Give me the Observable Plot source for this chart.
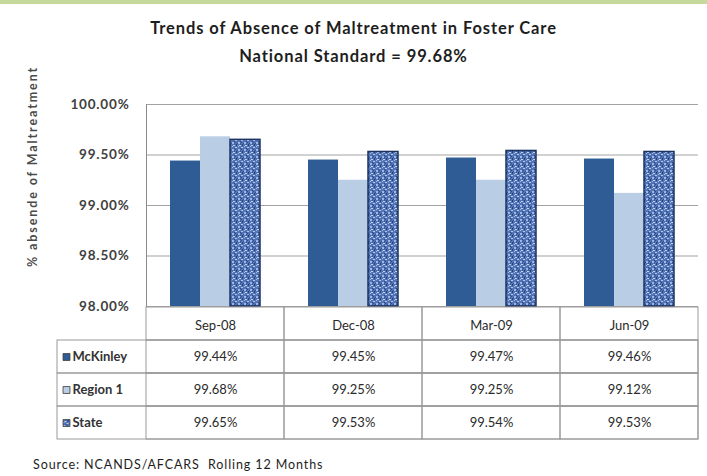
<!DOCTYPE html>
<html>
<head>
<meta charset="utf-8">
<script src="https://cdn.jsdelivr.net/npm/d3@7"></script>
<script src="https://cdn.jsdelivr.net/npm/@observablehq/plot@0.6"></script>
<style>
  html, body { margin: 0; padding: 0; background: #fff; }
  body { width: 707px; height: 476px; overflow: hidden; font-family: Lato, "Open Sans", sans-serif; position: relative; }
  #topbar { height: 4px; background: #c5d99c; }
  #title { margin-top: 10px; text-align: center; font-weight: bold; font-size: 16.5px; letter-spacing: 0.9px; line-height: 28px; color: #1e1e1e; }
  #table { margin-top: -10px; }
  #caption { margin-top: 17px; margin-left: 33px; font-size: 12.5px; line-height: 16px; color: #1e1e1e; letter-spacing: 0.9px; }
  #defs { position: absolute; width: 0; height: 0; }
  g[aria-label="y-axis tick label"] text { letter-spacing: 0.8px; }
  g[aria-label="table-values"] text { letter-spacing: 0.6px; }
  g[aria-label="table-header"] text { letter-spacing: 0.6px; }
  g[aria-label="row-labels"] text { letter-spacing: 1.1px; }
</style>
</head>
<body>
<svg id="defs" width="0" height="0">
  <defs>
    <pattern id="stateTex" width="6" height="7" patternUnits="userSpaceOnUse">
      <rect width="6" height="7" fill="#5374b4"/>
      <rect x="0" y="0" width="2" height="1" fill="#b3c7ee"/>
      <rect x="3" y="2" width="2" height="2" fill="#9db6e6"/>
      <rect x="1" y="4" width="1" height="2" fill="#233f7c"/>
      <rect x="5" y="1" width="1" height="1" fill="#2a4a8a"/>
      <rect x="4" y="5" width="2" height="1" fill="#c0d2f2"/>
      <rect x="0" y="2" width="1" height="1" fill="#2a4a8a"/>
      <rect x="2" y="3" width="1" height="1" fill="#2d4f91"/>
      <rect x="3" y="6" width="1" height="1" fill="#a8bfea"/>
      <rect x="5" y="3" width="1" height="2" fill="#3a5c9e"/>
    </pattern>
  </defs>
</svg>
<div id="topbar"></div>
<div id="title">Trends of Absence of Maltreatment in Foster Care<br>National Standard = 99.68%</div>
<div id="chart"></div>
<div id="table"></div>
<div id="caption">Source: NCANDS/AFCARS&nbsp; Rolling 12 Months</div>
<script>
const periods = ["Sep-08", "Dec-08", "Mar-09", "Jun-09"];
const seriesNames = ["McKinley", "Region 1", "State"];
const mckinley = [99.44, 99.45, 99.47, 99.46];
const region1 = [99.68, 99.25, 99.25, 99.12];
const state = [99.65, 99.53, 99.54, 99.53];
const yTicks = [98, 98.5, 99, 99.5, 100];
const yLabel = "% absende of Maltreatment";
const seriesColors = ["#2f5c94", "#b9cde5", "url(#stateTex)"];

const seriesValues = [mckinley, region1, state];
const data = periods.flatMap((p, i) =>
  seriesNames.map((s, j) => ({period: p, series: s, value: seriesValues[j][i]})));

const pct = d => d.toFixed(2) + "%";
const font = "Lato, 'Open Sans', sans-serif";

const chart = Plot.plot({
  width: 707,
  height: 246,
  marginLeft: 145,
  marginRight: 9,
  marginTop: 34,
  marginBottom: 10,
  style: {fontFamily: font, background: "white", overflow: "visible"},
  fx: {domain: periods, padding: 0, axis: null},
  x: {domain: seriesNames, paddingInner: 0, paddingOuter: 0.73, axis: null},
  y: {domain: [98, 100]},
  color: {domain: seriesNames, range: seriesColors},
  marks: [
    Plot.gridY(yTicks, {stroke: "#a3a3a3", strokeOpacity: 1}),
    Plot.frame({anchor: "left", facetAnchor: "left", stroke: "#8c8c8c"}),
    Plot.axisY(yTicks, {tickSize: 0, tickPadding: 17, tickFormat: pct, fontSize: 13.5, fill: "#404040", fontWeight: "bold", label: null}),
    Plot.text([yLabel], {fx: () => periods[0], text: d => d, frameAnchor: "left", textAnchor: "middle", rotate: -90, dx: -114, dy: -39, fontSize: 12.5, fontWeight: "bold", fill: "#4a4a4a"}),
    Plot.barY(data, {fx: "period", x: "series", y1: 98, y2: "value", fill: "series"}),
    Plot.barY(data.filter(d => d.series === "State"), {fx: "period", x: "series", y1: 98, y2: "value", fill: "none", stroke: "#1d3461", strokeWidth: 1.5})
  ]
});
d3.select(chart).selectAll("text")
  .filter(function() { return this.textContent === yLabel; })
  .attr("letter-spacing", "1.9px");
document.getElementById("chart").appendChild(chart);

const headerCells = periods.map(p => ({period: p, row: "header", text: p}));
const valueCells = data.map(d => ({period: d.period, row: d.series, text: pct(d.value)}));
const tableCells = [...headerCells, ...valueCells];

const table = Plot.plot({
  width: 707,
  height: 134,
  marginLeft: 145,
  marginRight: 9,
  marginTop: 0.5,
  marginBottom: 1.5,
  style: {fontFamily: font, background: "transparent", overflow: "visible"},
  x: {domain: periods, padding: 0, axis: null},
  y: {domain: ["header", ...seriesNames], padding: 0, axis: null},
  color: {domain: seriesNames, range: seriesColors},
  marks: [
    Plot.cell(seriesNames, {y: d => d, fill: "none", stroke: "#9a9a9a", insetLeft: -88}),
    Plot.cell(tableCells, {x: "period", y: "row", fill: "none", stroke: "#9a9a9a"}),
    Plot.text(headerCells, {x: "period", y: "row", dy: 2, text: "text", fontSize: 13, fill: "#2a2a2a", ariaLabel: "table-header"}),
    Plot.text(valueCells, {x: "period", y: "row", text: "text", fontSize: 13, fill: "#2a2a2a", ariaLabel: "table-values"}),
    Plot.dot(seriesNames, {y: d => d, frameAnchor: "left", dx: -79, symbol: "square", r: 3.9, fill: d => d, stroke: "#3a3a3a", strokeWidth: 0.8}),
    Plot.text(seriesNames, {y: d => d, text: d => d, frameAnchor: "left", dx: -73, textAnchor: "start", fontSize: 13, fontWeight: "bold", fill: "#333", ariaLabel: "row-labels"})
  ]
});
document.getElementById("table").appendChild(table);
</script>
</body>
</html>
